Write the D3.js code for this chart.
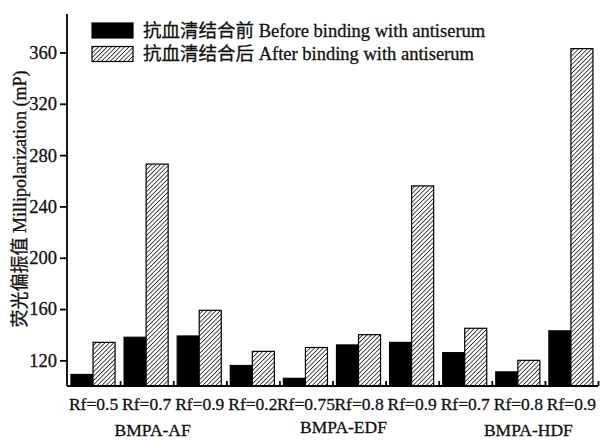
<!DOCTYPE html>
<html>
<head>
<meta charset="utf-8">
<script src="https://cdn.jsdelivr.net/npm/d3@7"></script>
<style>
  html, body { margin: 0; padding: 0; background: #fff; }
  svg { display: block; }
  text { font-family: "Liberation Serif", "Noto Sans CJK SC", serif; fill: #111; stroke: #111; stroke-width: 0.3; }
</style>
</head>
<body>
<script>
// ---- data ----
const categories = ["Rf=0.5","Rf=0.7","Rf=0.9","Rf=0.2","Rf=0.75","Rf=0.8","Rf=0.9","Rf=0.7","Rf=0.8","Rf=0.9"];
const beforeValues = [109, 138, 139, 116, 106, 132, 134, 126, 111, 143];
const afterValues  = [134, 273, 159, 127, 130, 140, 256, 145, 120, 363];
const seriesNames = ["抗血清结合前 Before binding with antiserum", "抗血清结合后 After binding with antiserum"];
const groupNames = ["BMPA-AF", "BMPA-EDF", "BMPA-HDF"];
const groupStart = [0, 3, 7];
const groupEnd = [2, 6, 9];
const yTicks = [120, 160, 200, 240, 280, 320, 360];
const yLabel = "荧光偏振值 Millipolarization (mP)";

// ---- layout ----
const W = 604, H = 441;
const mLeft = 67, mRight = 598, mTop = 14, mBottom = 386;
const groupLabelDx = [6, 11, 10];
const groupLabelY = [436, 433, 436];

const svg = d3.select("body").append("svg").attr("width", W).attr("height", H);

const defs = svg.append("defs");
const pw = 3.1;
const pat = defs.append("pattern")
  .attr("id", "hatch").attr("patternUnits", "userSpaceOnUse")
  .attr("width", pw).attr("height", pw)
  .attr("patternTransform", "rotate(45)");
pat.append("rect").attr("width", pw).attr("height", pw).attr("fill", "#fff");
pat.append("line").attr("x1", 0).attr("y1", 0).attr("x2", 0).attr("y2", pw)
  .attr("stroke", "#222").attr("stroke-width", 1.6);

const idx = d3.range(categories.length);
const x = d3.scaleBand().domain(idx).range([mLeft, mRight]).paddingInner(0).paddingOuter(0);
const bw = x.bandwidth();
const x1 = d3.scaleBand().domain([0, 1]).range([bw * 0.075, bw * 0.905]).padding(0);
const xLin = d3.scaleLinear().domain([0, categories.length]).range([mLeft, mRight]);
const y = d3.scaleLinear().domain([100, 390]).range([mBottom, mTop]);

const fills = ["#000", "url(#hatch)"];
const series = [beforeValues, afterValues];

// bars
series.forEach((vals, s) => {
  svg.append("g").selectAll("rect").data(vals).join("rect")
    .attr("x", (d, i) => x(i) + x1(s))
    .attr("y", d => y(d))
    .attr("width", x1.bandwidth())
    .attr("height", d => y(100) - y(d))
    .attr("fill", fills[s])
    .attr("stroke", "#000")
    .attr("stroke-width", 1.2);
});

// y axis
const yAxis = svg.append("g").attr("transform", `translate(${mLeft},0)`)
  .call(d3.axisLeft(y).tickValues(yTicks).tickSize(7).tickPadding(3).tickFormat(d3.format("d")));
yAxis.select(".domain").attr("d", `M0,${mTop}V${mBottom}`);
yAxis.selectAll("path, line").attr("stroke", "#000").attr("stroke-width", 1.8);
yAxis.selectAll("text").attr("font-size", 18.5).attr("fill", "#111")
  .style("font-family", '"Liberation Serif", serif');

// x axis: boundary ticks
const xAxis = svg.append("g").attr("transform", `translate(0,${mBottom})`)
  .call(d3.axisBottom(xLin).tickValues(d3.range(1, categories.length + 1)).tickSizeInner(-5).tickSizeOuter(0).tickFormat(""));
xAxis.select(".domain").attr("d", `M${mLeft},0H${mRight}`);
xAxis.selectAll("path, line").attr("stroke", "#000").attr("stroke-width", 1.8);

// x labels
const xLab = svg.append("g").attr("transform", `translate(0,${mBottom})`)
  .call(d3.axisBottom(x).tickSize(0).tickPadding(12).tickFormat(i => categories[i]));
xLab.select(".domain").remove();
xLab.selectAll("text").attr("font-size", 17.5).attr("fill", "#111")
  .style("font-family", '"Liberation Serif", serif');

// group labels
svg.append("g").selectAll("text").data(groupNames).join("text")
  .attr("x", (d, i) => (x(groupStart[i]) + x(groupEnd[i]) + bw) / 2 + groupLabelDx[i])
  .attr("y", (d, i) => groupLabelY[i])
  .attr("text-anchor", "middle")
  .attr("font-size", 17.5)
  .text(d => d);

// y label
svg.append("text")
  .attr("transform", `translate(26,${199}) rotate(-90)`)
  .attr("text-anchor", "middle")
  .attr("font-size", 18)
  .text(yLabel);

// legend
const leg = svg.append("g");
const legY = [30.5, 54];
seriesNames.forEach((name, s) => {
  leg.append("rect").attr("x", 92).attr("y", legY[s] - 7.5).attr("width", 41).attr("height", 15)
    .attr("fill", fills[s]).attr("stroke", "#000").attr("stroke-width", 1.2);
  leg.append("text").attr("x", 143).attr("y", legY[s]).attr("dy", "0.35em")
    .attr("font-size", 18.5).text(name);
});
</script>
</body>
</html>
